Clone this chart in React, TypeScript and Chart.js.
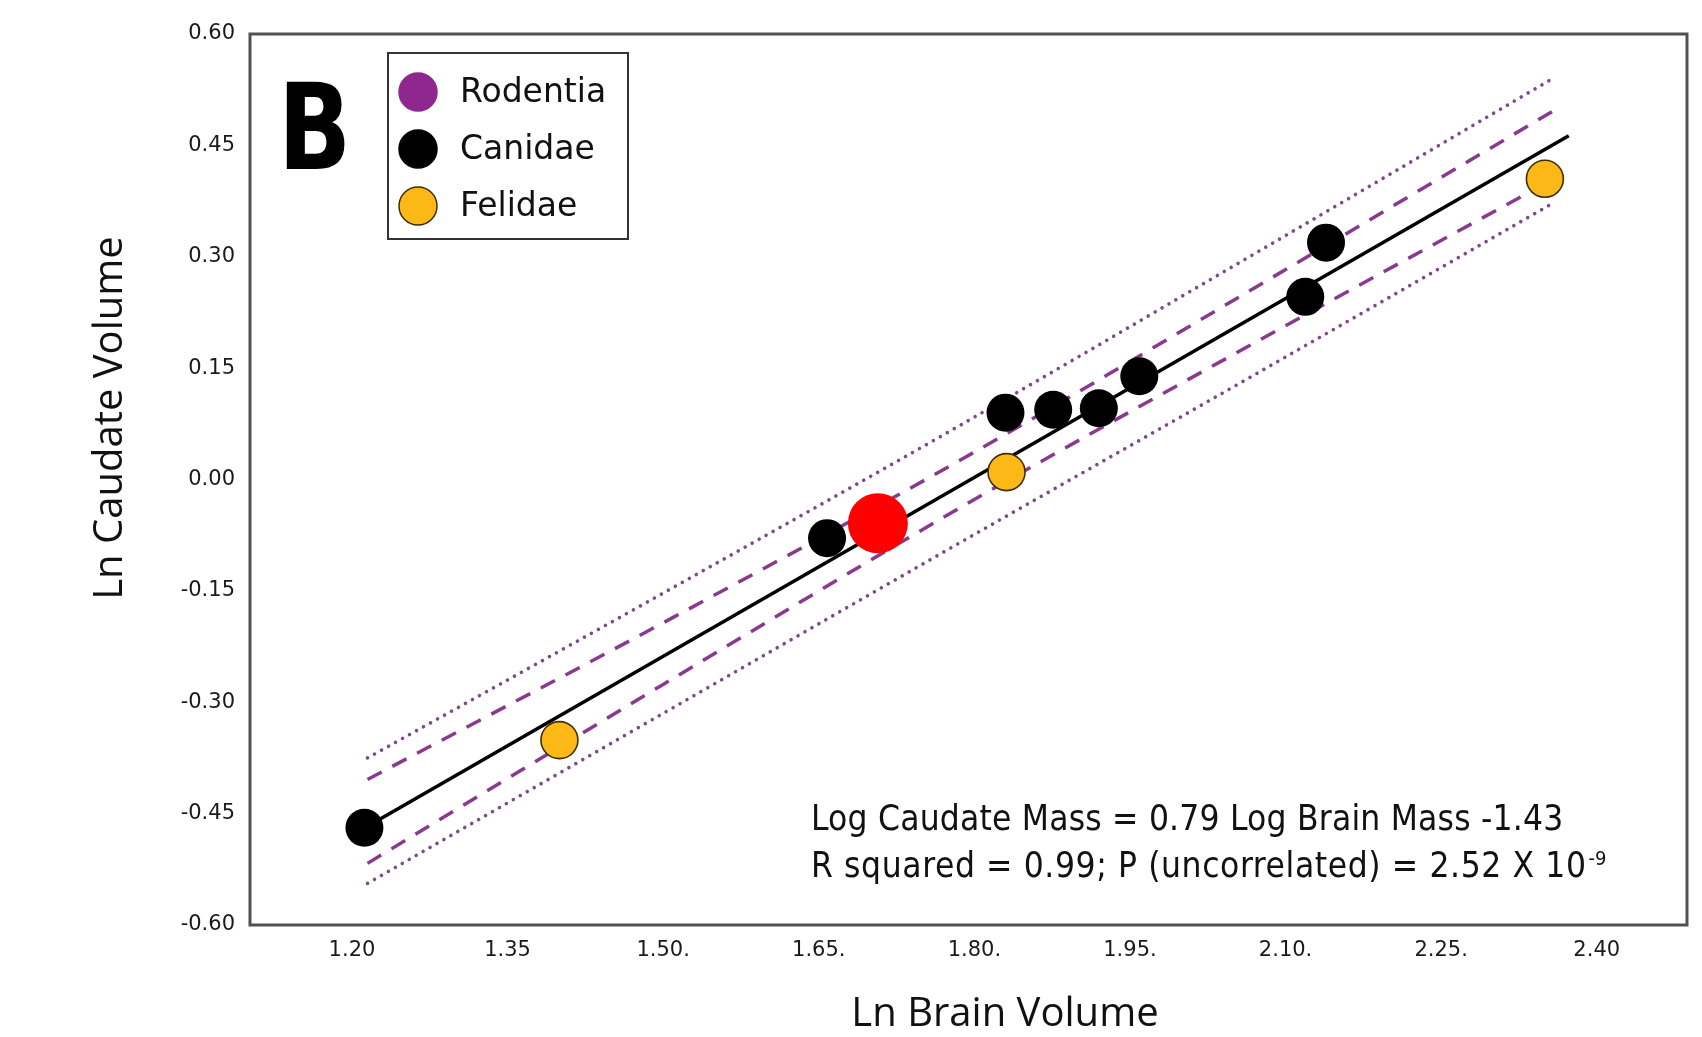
import React, { useEffect, useRef } from "react";
import { Chart, registerables } from "chart.js";

Chart.register(...registerables);

// ---- tick labels ----
const xTickValues = [1.2, 1.35, 1.5, 1.65, 1.8, 1.95, 2.1, 2.25, 2.4];
const xTickLabels = ["1.20", "1.35", "1.50.", "1.65.", "1.80.", "1.95.", "2.10.", "2.25.", "2.40"];
const yTickValues = [0.6, 0.45, 0.3, 0.15, 0, -0.15, -0.3, -0.45, -0.6];
const yTickLabels = ["0.60", "0.45", "0.30", "0.15", "0.00", "-0.15", "-0.30", "-0.45", "-0.60"];

// ---- series ----
const seriesNames = ["Rodentia", "Canidae", "Felidae"];
const rodentiaX: number[] = [];
const rodentiaY: number[] = [];
const canidaeX = [1.212, 1.658, 1.83, 1.876, 1.92, 1.959, 2.119, 2.139];
const canidaeY = [-0.469, -0.079, 0.09, 0.094, 0.096, 0.139, 0.246, 0.319];
const felidaeX = [1.4, 1.831, 2.35];
const felidaeY = [-0.351, 0.01, 0.405];
const highlightX = [1.707];
const highlightY = [-0.059];

// regression line and bands
const fitX = [1.2125, 2.373];
const fitY = [-0.469, 0.463];
const ciX = [1.215, 1.5, 1.79, 2.07, 2.36];
const ciUpperY = [-0.404, -0.193, 0.029, 0.258, 0.498];
const ciLowerY = [-0.517, -0.276, -0.035, 0.184, 0.406];
const piX = [1.215, 1.5, 1.79, 2.07, 2.355];
const piUpperY = [-0.375, -0.153, 0.076, 0.304, 0.538];
const piLowerY = [-0.544, -0.315, -0.082, 0.141, 0.37];

// ---- texts ----
const panelLetter = "B";
const xTitle = "Ln Brain Volume";
const yTitle = "Ln Caudate Volume";
const equationLine1 = "Log Caudate Mass = 0.79 Log Brain Mass -1.43";
const equationLine2 = "R squared = 0.99; P (uncorrelated) = 2.52 X 10";
const equationExponent = "-9";

const pts = (xs: number[], ys: number[]) => xs.map((x, i) => ({ x, y: ys[i] }));

const PURPLE = "#8e288f";
const BLACK = "#000000";
const YELLOW = "#fbb817";
const YELLOW_BORDER = "#3d2e05";
const RED = "#ff0000";
const DASH_COLOR = "#8a3a8e";
const DOT_COLOR = "#7e4a8c";

const legendColors = [PURPLE, BLACK, YELLOW];
const legendBorders = [PURPLE, BLACK, YELLOW_BORDER];

const TICK_FONT = "'DejaVu Sans'";
const EQ_FONT = "'DejaVu Sans Condensed', 'DejaVu Sans'";

const overlay = {
  id: "overlay",
  afterDraw(chart: any) {
    const { ctx, chartArea: a } = chart;
    ctx.save();
    // frame
    ctx.strokeStyle = "#505050";
    ctx.lineWidth = 3;
    ctx.strokeRect(a.left, a.top, a.right - a.left, a.bottom - a.top);

    // panel letter
    ctx.save();
    ctx.fillStyle = "#000";
    ctx.font = "bold 120px 'DejaVu Sans'";
    ctx.textBaseline = "alphabetic";
    ctx.translate(a.left + 28, 169);
    ctx.scale(0.8, 1);
    ctx.fillText(panelLetter, 0, 0);
    ctx.restore();

    // legend box
    const bx = a.left + 138;
    const by = a.top + 19;
    const bw = 240;
    const bh = 186;
    ctx.fillStyle = "#fff";
    ctx.fillRect(bx, by, bw, bh);
    ctx.strokeStyle = "#333";
    ctx.lineWidth = 2;
    ctx.strokeRect(bx, by, bw, bh);
    ctx.font = "33px 'DejaVu Sans'";
    ctx.textBaseline = "middle";
    ctx.textAlign = "left";
    seriesNames.forEach((name, i) => {
      const cy = by + 39 + i * 57;
      ctx.beginPath();
      ctx.arc(bx + 30, cy, 19, 0, Math.PI * 2);
      ctx.fillStyle = legendColors[i];
      ctx.fill();
      ctx.lineWidth = 1.5;
      ctx.strokeStyle = legendBorders[i];
      ctx.stroke();
      ctx.fillStyle = "#111";
      ctx.fillText(name, bx + 72, cy + 1);
    });

    // equation
    ctx.fillStyle = "#111";
    ctx.textBaseline = "alphabetic";
    ctx.font = "35px " + EQ_FONT;
    (ctx as any).letterSpacing = "0.2px";
    ctx.fillText(equationLine1, 811, 830);
    (ctx as any).letterSpacing = "0.6px";
    ctx.fillText(equationLine2, 811, 877);
    const w2 = ctx.measureText(equationLine2).width;
    (ctx as any).letterSpacing = "0px";
    ctx.font = "20px " + EQ_FONT;
    ctx.fillText(equationExponent, 811 + w2 + 2, 865);

    // axis titles
    ctx.font = "40px 'Open Sans'";
    ctx.textAlign = "center";
    ctx.fillText(xTitle, 1005, 1026);
    ctx.save();
    ctx.translate(122, 418);
    ctx.rotate(-Math.PI / 2);
    ctx.fillText(yTitle, 0, 0);
    ctx.restore();

    ctx.restore();
  },
};

export default function App() {
  const ref = useRef<HTMLCanvasElement | null>(null);

  useEffect(() => {
    if (!ref.current) return;
    const chart = new Chart(ref.current, {
      type: "scatter",
      data: {
        datasets: [
          {
            label: "Highlighted",
            data: pts(highlightX, highlightY),
            pointRadius: 30,
            pointBackgroundColor: RED,
            pointBorderColor: RED,
            pointBorderWidth: 0,
          },
          {
            label: seriesNames[2],
            data: pts(felidaeX, felidaeY),
            pointRadius: 18.5,
            pointBackgroundColor: YELLOW,
            pointBorderColor: YELLOW_BORDER,
            pointBorderWidth: 1.6,
          },
          {
            label: seriesNames[1],
            data: pts(canidaeX, canidaeY),
            pointRadius: 19,
            pointBackgroundColor: BLACK,
            pointBorderColor: BLACK,
            pointBorderWidth: 0,
          },
          {
            label: seriesNames[0],
            data: pts(rodentiaX, rodentiaY),
            pointRadius: 19,
            pointBackgroundColor: PURPLE,
          },
          {
            label: "Fit",
            data: pts(fitX, fitY),
            showLine: true,
            pointRadius: 0,
            borderColor: "#000",
            borderWidth: 3.5,
          },
          {
            label: "CI upper",
            data: pts(ciX, ciUpperY),
            showLine: true,
            pointRadius: 0,
            borderColor: DASH_COLOR,
            borderWidth: 3.5,
            borderDash: [16, 12],
            cubicInterpolationMode: "monotone",
          },
          {
            label: "CI lower",
            data: pts(ciX, ciLowerY),
            showLine: true,
            pointRadius: 0,
            borderColor: DASH_COLOR,
            borderWidth: 3.5,
            borderDash: [16, 12],
            cubicInterpolationMode: "monotone",
          },
          {
            label: "PI upper",
            data: pts(piX, piUpperY),
            showLine: true,
            pointRadius: 0,
            borderColor: DOT_COLOR,
            borderWidth: 3.6,
            borderDash: [0.01, 8],
            borderCapStyle: "round",
            cubicInterpolationMode: "monotone",
          },
          {
            label: "PI lower",
            data: pts(piX, piLowerY),
            showLine: true,
            pointRadius: 0,
            borderColor: DOT_COLOR,
            borderWidth: 3.6,
            borderDash: [0.01, 8],
            borderCapStyle: "round",
            cubicInterpolationMode: "monotone",
          },
        ] as any,
      },
      options: {
        animation: false,
        responsive: false,
        maintainAspectRatio: false,
        devicePixelRatio: 1,
        layout: { autoPadding: false, padding: { top: 34, right: 15, left: 0, bottom: 0 } },
        plugins: { legend: { display: false }, tooltip: { enabled: false } },
        scales: {
          x: {
            type: "linear",
            min: 1.1017,
            max: 2.487,
            grid: { display: false, drawTicks: false },
            border: { display: false },
            ticks: {
              autoSkip: false,
              maxRotation: 0,
              padding: 13,
              color: "#1a1a1a",
              font: { family: TICK_FONT, size: 21 },
              callback: (v: any) => {
                const i = xTickValues.findIndex((t) => Math.abs(t - Number(v)) < 1e-6);
                return i >= 0 ? xTickLabels[i] : "";
              },
            },
            afterBuildTicks: (s: any) => {
              s.ticks = xTickValues.map((value) => ({ value }));
            },
            afterFit: (s: any) => {
              s.height = 112;
              s.paddingLeft = 0;
              s.paddingRight = 0;
            },
          },
          y: {
            type: "linear",
            min: -0.6,
            max: 0.6,
            grid: { display: false, drawTicks: false },
            border: { display: false },
            ticks: {
              autoSkip: false,
              padding: 15,
              color: "#1a1a1a",
              font: { family: TICK_FONT, size: 21 },
              callback: (v: any) => {
                const i = yTickValues.findIndex((t) => Math.abs(t - Number(v)) < 1e-6);
                return i >= 0 ? yTickLabels[i] : "";
              },
            },
            afterBuildTicks: (s: any) => {
              s.ticks = yTickValues.map((value) => ({ value }));
            },
            afterFit: (s: any) => {
              s.width = 250;
              s.paddingTop = 0;
              s.paddingBottom = 0;
            },
          },
        },
      } as any,
      plugins: [overlay],
    });
    return () => chart.destroy();
  }, []);

  return (
    <div style={{ position: "fixed", left: 0, top: 0, width: 1702, height: 1037, background: "#fff" }}>
      <canvas ref={ref} width={1702} height={1037} style={{ display: "block" }} />
    </div>
  );
}
